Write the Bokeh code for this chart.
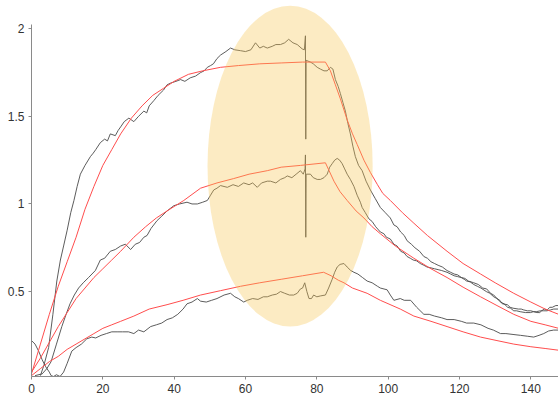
from bokeh.plotting import figure
from bokeh.models import Range1d, FixedTicker
from bokeh.embed import file_html
from bokeh.resources import INLINE

# ---- measured curves (noisy traces) ----
a_x = [2.5, 3.5, 4.8, 6.0, 7.1, 8.1, 9.0, 10.0, 11.0, 11.9, 12.8, 13.7, 15.0, 16.5, 17.3, 18.0, 19.3, 20.5, 21.3, 22.1, 23.5, 24.3, 25.0, 26.0, 27.3, 28.7, 30.0, 31.5, 32.3, 33.0, 34.3, 35.5, 37.0, 38.0, 39.0, 40.5, 41.8, 43.0, 44.5, 46.0, 47.4, 48.4, 49.3, 50.2, 51.0, 52.0, 53.0, 54.5, 55.8, 57.0, 58.6, 60.0, 61.5, 62.8, 64.0, 65.0, 66.1, 67.5, 68.5, 69.8, 71.0, 72.1, 73.3, 74.5, 75.9, 76.5, 76.8, 76.9, 77.0, 78.2, 79.0, 80.1, 81.0, 82.0, 82.9, 83.8, 84.5, 85.2, 86.0, 86.6, 87.3, 88.0, 88.7, 89.4, 90.1, 90.8, 91.7, 92.7, 93.8, 95.0, 96.4, 97.8, 99.2, 100.6, 101.6, 102.5, 103.5, 104.5, 105.3, 106.5, 107.5, 108.8, 110.0, 111.0, 112.0, 113.0, 114.0, 115.2, 116.5, 117.5, 118.5, 119.5, 120.5, 121.5, 122.5, 124.0, 125.3, 126.5, 127.6, 128.7, 129.6, 130.5, 131.3, 132.0, 133.4, 134.2, 135.0, 136.5, 137.3, 138.0, 139.0, 140.0, 140.8, 141.7, 142.5, 143.0, 143.8, 144.6, 145.3, 146.0, 147.0, 147.8]
a_y = [0.02, 0.08, 0.18, 0.37, 0.56, 0.68, 0.76, 0.85, 0.95, 1.02, 1.10, 1.17, 1.22, 1.27, 1.29, 1.31, 1.35, 1.37, 1.36, 1.40, 1.39, 1.42, 1.44, 1.47, 1.49, 1.47, 1.50, 1.53, 1.52, 1.56, 1.59, 1.62, 1.65, 1.68, 1.69, 1.70, 1.71, 1.70, 1.72, 1.73, 1.75, 1.76, 1.78, 1.79, 1.80, 1.83, 1.85, 1.87, 1.89, 1.88, 1.875, 1.87, 1.88, 1.92, 1.89, 1.90, 1.89, 1.90, 1.91, 1.91, 1.92, 1.94, 1.92, 1.91, 1.885, 1.88, 1.96, 1.37, 1.82, 1.81, 1.80, 1.78, 1.77, 1.76, 1.76, 1.78, 1.77, 1.71, 1.67, 1.63, 1.58, 1.53, 1.46, 1.40, 1.33, 1.27, 1.22, 1.19, 1.13, 1.08, 1.03, 0.98, 0.95, 0.92, 0.88, 0.87, 0.84, 0.82, 0.79, 0.77, 0.75, 0.73, 0.70, 0.69, 0.67, 0.66, 0.65, 0.64, 0.62, 0.61, 0.60, 0.595, 0.58, 0.575, 0.56, 0.55, 0.54, 0.52, 0.515, 0.49, 0.48, 0.46, 0.45, 0.43, 0.425, 0.41, 0.405, 0.40, 0.40, 0.395, 0.39, 0.39, 0.385, 0.38, 0.38, 0.39, 0.40, 0.395, 0.41, 0.41, 0.42, 0.42, 0.43]

b_x = [1.0, 3.0, 4.3, 5.5, 7.0, 8.5, 9.7, 10.8, 12.0, 13.2, 14.5, 16.0, 17.9, 19.3, 20.5, 22.1, 23.5, 25.0, 26.3, 27.8, 29.1, 30.3, 31.5, 32.4, 33.5, 35.2, 36.5, 38.0, 39.9, 41.5, 43.6, 45.0, 46.5, 48.0, 49.3, 50.2, 51.1, 52.0, 53.0, 54.9, 56.5, 58.0, 59.5, 61.0, 62.0, 63.3, 64.5, 66.1, 67.0, 68.5, 69.8, 71.0, 71.7, 73.0, 74.2, 75.4, 76.2, 76.7, 76.8, 76.9, 77.0, 78.2, 79.0, 80.1, 81.0, 82.0, 82.9, 83.6, 84.3, 85.0, 85.7, 86.4, 87.1, 87.8, 88.5, 89.4, 90.4, 91.3, 92.2, 92.7, 93.6, 94.6, 95.5, 96.5, 97.8, 98.8, 99.5, 100.6, 101.6, 102.5, 103.5, 104.5, 105.3, 106.2, 107.0, 108.0, 109.0, 110.0, 110.9, 112.0, 113.0, 114.0, 115.0, 116.5, 117.5, 118.5, 119.5, 120.5, 121.3, 122.0, 123.0, 124.0, 125.0, 126.0, 127.5, 128.5, 129.6, 130.5, 131.5, 132.5, 133.5, 134.3, 135.2, 136.0, 137.0, 138.5, 139.9, 140.7, 141.5, 142.7, 143.5, 144.5, 145.5, 146.4, 147.8]
b_y = [0.02, 0.03, 0.06, 0.10, 0.20, 0.30, 0.37, 0.43, 0.48, 0.52, 0.55, 0.58, 0.62, 0.68, 0.69, 0.73, 0.74, 0.76, 0.77, 0.74, 0.77, 0.78, 0.81, 0.82, 0.86, 0.905, 0.93, 0.96, 0.99, 1.00, 1.01, 1.00, 1.00, 1.01, 1.02, 1.05, 1.08, 1.09, 1.105, 1.095, 1.11, 1.10, 1.12, 1.11, 1.12, 1.095, 1.12, 1.13, 1.13, 1.12, 1.14, 1.15, 1.16, 1.15, 1.17, 1.19, 1.17, 1.20, 1.28, 0.81, 1.17, 1.17, 1.15, 1.14, 1.14, 1.15, 1.17, 1.21, 1.23, 1.25, 1.26, 1.25, 1.23, 1.20, 1.17, 1.14, 1.10, 1.05, 1.01, 0.98, 0.95, 0.915, 0.90, 0.87, 0.84, 0.83, 0.81, 0.80, 0.77, 0.76, 0.73, 0.72, 0.70, 0.69, 0.68, 0.675, 0.66, 0.65, 0.64, 0.635, 0.63, 0.625, 0.62, 0.61, 0.60, 0.59, 0.585, 0.58, 0.57, 0.56, 0.555, 0.54, 0.53, 0.52, 0.50, 0.49, 0.47, 0.46, 0.44, 0.43, 0.41, 0.405, 0.39, 0.39, 0.385, 0.38, 0.38, 0.385, 0.385, 0.39, 0.39, 0.39, 0.395, 0.40, 0.40]

c_x = [0.0, 1.0, 2.0, 3.0, 4.0, 5.0, 5.5, 6.2, 7.0, 8.0, 9.0, 10.0, 11.3, 12.5, 14.0, 15.5, 16.9, 18.0, 19.5, 21.0, 22.5, 24.0, 25.5, 27.2, 28.7, 30.0, 31.5, 33.4, 35.0, 36.5, 38.0, 39.5, 41.0, 42.5, 43.6, 45.0, 46.5, 47.4, 49.0, 50.5, 52.0, 54.0, 55.8, 57.0, 58.0, 59.5, 60.5, 62.0, 63.5, 65.0, 66.1, 67.5, 68.7, 69.8, 71.0, 72.3, 73.5, 74.5, 75.4, 76.0, 76.6, 77.2, 77.8, 78.5, 79.1, 80.0, 81.0, 82.4, 83.3, 84.3, 85.0, 85.7, 86.5, 87.6, 88.5, 89.5, 90.4, 91.5, 92.8, 94.1, 95.5, 97.0, 97.8, 99.7, 100.6, 101.6, 103.4, 104.5, 106.3, 108.0, 110.0, 111.5, 113.0, 115.0, 116.5, 118.5, 120.5, 122.0, 124.0, 126.0, 128.0, 129.5, 131.5, 133.0, 135.0, 137.1, 139.0, 140.8, 142.3, 143.6, 145.0, 146.4, 147.8]
c_y = [0.22, 0.20, 0.16, 0.11, 0.07, 0.04, 0.02, 0.015, 0.025, 0.015, 0.04, 0.09, 0.16, 0.18, 0.20, 0.23, 0.24, 0.235, 0.25, 0.26, 0.27, 0.27, 0.27, 0.27, 0.26, 0.28, 0.27, 0.30, 0.31, 0.32, 0.34, 0.35, 0.37, 0.40, 0.43, 0.44, 0.46, 0.445, 0.44, 0.45, 0.46, 0.48, 0.49, 0.47, 0.46, 0.44, 0.45, 0.46, 0.455, 0.47, 0.47, 0.48, 0.485, 0.50, 0.49, 0.48, 0.48, 0.49, 0.515, 0.52, 0.55, 0.50, 0.46, 0.46, 0.48, 0.47, 0.475, 0.48, 0.52, 0.57, 0.61, 0.64, 0.655, 0.66, 0.64, 0.62, 0.61, 0.60, 0.58, 0.56, 0.55, 0.53, 0.52, 0.51, 0.48, 0.45, 0.46, 0.45, 0.45, 0.41, 0.37, 0.37, 0.36, 0.35, 0.34, 0.34, 0.33, 0.32, 0.32, 0.31, 0.29, 0.28, 0.26, 0.26, 0.255, 0.25, 0.245, 0.24, 0.25, 0.26, 0.275, 0.28, 0.28]

# ---- fitted curves (smooth red) ----
fa_x = [0, 2.5, 5, 7.5, 10, 12.5, 15, 17.5, 20, 22.5, 25, 28, 31, 34, 37, 40, 44, 48, 53, 58, 64, 70, 76, 82.4, 83.8, 85.2, 86.6, 88.5, 90, 91.3, 93.2, 95, 97, 98.5, 100.6, 104, 107.2, 111, 116.5, 121, 125.9, 130, 135.2, 140, 144, 147.8]
fa_y = [0.03, 0.20, 0.37, 0.53, 0.67, 0.81, 0.97, 1.10, 1.22, 1.31, 1.40, 1.49, 1.56, 1.62, 1.66, 1.70, 1.74, 1.76, 1.78, 1.79, 1.80, 1.805, 1.81, 1.81, 1.76, 1.68, 1.60, 1.48, 1.40, 1.34, 1.25, 1.18, 1.11, 1.06, 1.02, 0.95, 0.89, 0.82, 0.73, 0.66, 0.60, 0.55, 0.49, 0.44, 0.40, 0.37]
fb_x = [0, 2.5, 5, 7.5, 10, 12.5, 15, 17.5, 20, 22.5, 25, 28.7, 32, 35, 38, 42.7, 47.4, 52, 56.7, 61, 66.1, 70, 75.4, 82.4, 84.8, 86.5, 88.5, 91, 93.2, 95.5, 97.8, 102, 107.2, 112, 116.5, 121, 125.9, 130.5, 135.2, 140, 144, 147.8]
fb_y = [0.04, 0.12, 0.21, 0.30, 0.38, 0.46, 0.52, 0.58, 0.63, 0.68, 0.73, 0.81, 0.87, 0.92, 0.96, 1.02, 1.09, 1.12, 1.145, 1.17, 1.19, 1.21, 1.22, 1.235, 1.13, 1.07, 1.02, 0.96, 0.92, 0.87, 0.83, 0.76, 0.69, 0.63, 0.58, 0.525, 0.47, 0.42, 0.37, 0.33, 0.31, 0.29]
fc_x = [0, 2.5, 5, 7.5, 10, 12.5, 15, 17.5, 20, 22.5, 25, 28.7, 33, 38, 42.5, 47.4, 53, 58.6, 64, 70, 76, 81.9, 84, 86, 87.6, 90, 94.1, 97.8, 103.4, 107.2, 112, 116.5, 121, 125.9, 130.5, 135.2, 140, 144, 147.8]
fc_y = [0.02, 0.06, 0.10, 0.13, 0.17, 0.20, 0.23, 0.26, 0.29, 0.31, 0.33, 0.36, 0.40, 0.425, 0.45, 0.48, 0.505, 0.53, 0.55, 0.57, 0.59, 0.61, 0.59, 0.565, 0.55, 0.52, 0.49, 0.45, 0.40, 0.36, 0.33, 0.30, 0.27, 0.24, 0.22, 0.20, 0.185, 0.175, 0.165]

# ---- highlight ellipse ----
ell_x = [72.5]
ell_y = [1.216]
ell_w = [46.3]
ell_h = [1.832]

x_ticks = [0, 20, 40, 60, 80, 100, 120, 140]
y_ticks = [0.5, 1, 1.5, 2]
y_labels = {0.5: "0.5", 1: "1", 1.5: "1.5", 2: "2"}

p = figure(width=558, height=399, output_backend="svg", toolbar_location=None,
           x_range=Range1d(0, 147.75), y_range=Range1d(0.015, 2.1615),
           min_border_left=31, min_border_right=0, min_border_top=0, min_border_bottom=23)
p.outline_line_color = None
p.xgrid.visible = False
p.ygrid.visible = False
p.background_fill_color = "white"

black = "#4a4a4a"
red = "#ff4d4d"
for xs, ys in ((a_x, a_y), (b_x, b_y), (c_x, c_y)):
    p.line(xs, ys, line_color=black, line_width=0.9)
for xs, ys in ((fa_x, fa_y), (fb_x, fb_y), (fc_x, fc_y)):
    p.line(xs, ys, line_color=red, line_width=1)

p.ellipse(x=ell_x, y=ell_y, width=ell_w, height=ell_h,
          fill_color="#F7C553", fill_alpha=0.35, line_color=None)

for ax in (p.xaxis[0], p.yaxis[0]):
    ax.axis_line_color = "#8a8a8a"
    ax.major_tick_line_color = "#8a8a8a"
    ax.minor_tick_line_color = None
    ax.major_tick_in = 0
    ax.major_tick_out = 3
    ax.major_label_text_font = "Liberation Sans"
    ax.major_label_text_font_size = "12px"
    ax.major_label_text_color = "#333333"
    ax.major_label_standoff = 4

p.xaxis[0].ticker = FixedTicker(ticks=x_ticks)
p.yaxis[0].ticker = FixedTicker(ticks=y_ticks)
p.yaxis[0].major_label_overrides = y_labels
p.yaxis[0].bounds = (0, 2.025)

open("out.html", "w").write(file_html(p, INLINE))
